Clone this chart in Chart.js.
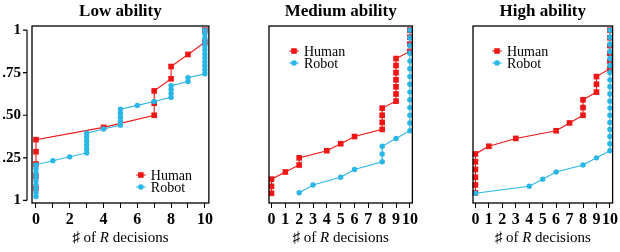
<!DOCTYPE html>
<html>
<head>
<meta charset="utf-8">
<script src="https://cdn.jsdelivr.net/npm/chart.js@4/dist/chart.umd.min.js"></script>
<style>
  html, body { margin: 0; padding: 0; background: #fff; }
  #wrap { position: relative; width: 620px; height: 252px; overflow: hidden; }
  canvas { position: absolute; top: 0; }
</style>
</head>
<body>
<div id="wrap">
  <canvas id="lowChart" width="215" height="252" style="left:0px"></canvas>
  <canvas id="mediumChart" width="205" height="252" style="left:215px"></canvas>
  <canvas id="highChart" width="200" height="252" style="left:420px"></canvas>
</div>
<script>
// x轴刻度
const xTickValues = [0, 1, 2, 3, 4, 5, 6, 7, 8, 9, 10];
const lowXTickLabels = ['0', '', '2', '', '4', '', '6', '', '8', '', '10'];
const allXTickLabels = ['0', '1', '2', '3', '4', '5', '6', '7', '8', '9', '10'];
// y轴刻度（原图底部就是写的 "1"）
const yTickValues = [0, 0.25, 0.5, 0.75, 1];
const yTickLabels = ['1', '.25', '.50', '.75', '1'];

// Low ability
const lowHumanX = [0, 0, 0, 0, 0, 4, 7, 7, 7, 8, 8, 9, 10, 10];
const lowHumanY = [0.071, 0.143, 0.214, 0.286, 0.357, 0.429, 0.5, 0.571, 0.643, 0.714, 0.786, 0.857, 0.929, 1];
const lowRobotX = [0, 0, 0, 0, 0, 0, 0, 0, 0, 1, 2, 3, 3, 3, 3, 3, 3, 4, 5, 5, 5, 5, 5, 6, 7, 8, 8, 8, 8, 9, 9,
                   10, 10, 10, 10, 10, 10, 10, 10, 10, 10, 10, 10];
const lowRobotY = [0.023, 0.047, 0.07, 0.093, 0.116, 0.14, 0.163, 0.186, 0.209, 0.233, 0.256,
                   0.279, 0.302, 0.326, 0.349, 0.372, 0.395, 0.419, 0.442, 0.465, 0.488, 0.512, 0.535,
                   0.558, 0.581, 0.605, 0.628, 0.651, 0.674, 0.698, 0.721,
                   0.744, 0.767, 0.791, 0.814, 0.837, 0.86, 0.884, 0.907, 0.93, 0.953, 0.977, 1];

// Medium ability
const mediumHumanX = [0, 0, 0, 1, 2, 2, 4, 5, 6, 8, 8, 8, 8, 9, 9, 9, 9, 9, 9, 9, 10, 10, 10, 10];
const mediumHumanY = [0.042, 0.083, 0.125, 0.167, 0.208, 0.25, 0.292, 0.333, 0.375, 0.417, 0.458, 0.5,
                      0.542, 0.583, 0.625, 0.667, 0.708, 0.75, 0.792, 0.833, 0.875, 0.917, 0.958, 1];
const mediumRobotX = [2, 3, 5, 6, 8, 8, 8, 9, 10, 10, 10, 10, 10, 10, 10, 10, 10, 10, 10, 10, 10, 10];
const mediumRobotY = [0.045, 0.091, 0.136, 0.182, 0.227, 0.273, 0.318, 0.364, 0.409, 0.455, 0.5,
                      0.545, 0.591, 0.636, 0.682, 0.727, 0.773, 0.818, 0.864, 0.909, 0.955, 1];

// High ability
const highHumanX = [0, 0, 0, 0, 0, 0, 1, 3, 6, 7, 8, 8, 8, 9, 9, 9, 10, 10, 10, 10, 10, 10];
const highHumanY = [0.045, 0.091, 0.136, 0.182, 0.227, 0.273, 0.318, 0.364, 0.409, 0.455, 0.5,
                    0.545, 0.591, 0.636, 0.682, 0.727, 0.773, 0.818, 0.864, 0.909, 0.955, 1];
const highRobotX = [0, 4, 5, 6, 8, 9, 10, 10, 10, 10, 10, 10, 10, 10, 10, 10, 10, 10, 10, 10, 10, 10, 10, 10];
const highRobotY = [0.042, 0.083, 0.125, 0.167, 0.208, 0.25, 0.292, 0.333, 0.375, 0.417, 0.458, 0.5,
                    0.542, 0.583, 0.625, 0.667, 0.708, 0.75, 0.792, 0.833, 0.875, 0.917, 0.958, 1];

const RED = 'rgb(240, 22, 22)';
const BLUE = 'rgb(42, 182, 230)';
const SERIF = '"Liberation Serif", "DejaVu Serif", serif';

function toPoints(xs, ys) {
    return xs.map((x, i) => ({ x: x, y: ys[i] }));
}

function drawMarker(ctx, style, x, y, color) {
    ctx.strokeStyle = color;
    ctx.fillStyle = color;
    ctx.lineWidth = 1;
    ctx.beginPath();
    ctx.moveTo(x - 5, y);
    ctx.lineTo(x + 5, y);
    ctx.stroke();
    if (style === 'rect') {
        ctx.fillRect(x - 2.8, y - 2.8, 5.6, 5.6);
    } else {
        ctx.beginPath();
        ctx.arc(x, y, 2.8, 0, Math.PI * 2);
        ctx.fill();
    }
}

// 外框、标题、x轴标题、图例、偏移的y轴
const decorPlugin = {
    id: 'decor',
    afterDraw(chart, args, opts) {
        const ctx = chart.ctx;
        const a = chart.chartArea;
        const cx = (a.left + a.right) / 2;
        ctx.save();

        // 外框
        ctx.strokeStyle = '#000';
        ctx.lineWidth = 1.3;
        ctx.strokeRect(a.left, a.top, a.right - a.left, a.bottom - a.top);

        // 偏移的y轴线
        if (opts.yAxisLine) {
            const ys = chart.scales.y;
            const lx = a.left - 5;
            ctx.lineWidth = 1.2;
            ctx.beginPath();
            ctx.moveTo(lx, ys.getPixelForValue(1));
            ctx.lineTo(lx, ys.getPixelForValue(0));
            yTickValues.forEach(v => {
                const py = ys.getPixelForValue(v);
                ctx.moveTo(lx - 4, py);
                ctx.lineTo(lx, py);
            });
            ctx.stroke();
        }

        // 标题
        ctx.fillStyle = '#000';
        ctx.textAlign = 'center';
        ctx.textBaseline = 'middle';
        ctx.font = 'bold 17px ' + SERIF;
        ctx.fillText(opts.title, cx, 12);

        // x轴标题：♯ of R decisions（R 用斜体）
        const parts = [
            { t: '\u266F of ', f: '15px ' + SERIF },
            { t: 'R', f: 'italic 15px ' + SERIF },
            { t: ' decisions', f: '15px ' + SERIF }
        ];
        let total = 0;
        parts.forEach(p => { ctx.font = p.f; p.w = ctx.measureText(p.t).width; total += p.w; });
        let px = cx - total / 2;
        ctx.textAlign = 'left';
        parts.forEach(p => { ctx.font = p.f; ctx.fillText(p.t, px, 238); px += p.w; });

        // 图例
        const lg = opts.legend;
        const lx = lg.fromRight ? a.right - lg.dx : a.left + lg.dx;
        const ly = lg.fromBottom ? a.bottom - lg.dy : a.top + lg.dy;
        ctx.font = '14px ' + SERIF;
        drawMarker(ctx, 'rect', lx, ly, RED);
        ctx.fillStyle = '#000';
        ctx.fillText('Human', lx + 10, ly + 1);
        drawMarker(ctx, 'circle', lx, ly + 12, BLUE);
        ctx.fillStyle = '#000';
        ctx.fillText('Robot', lx + 10, ly + 13);

        ctx.restore();
    }
};

function makePanel(id, cfg) {
    const ctx = document.getElementById(id).getContext('2d');
    return new Chart(ctx, {
        type: 'scatter',
        data: {
            datasets: [
                {
                    label: 'Human',
                    data: toPoints(cfg.humanX, cfg.humanY),
                    showLine: true,
                    borderColor: RED,
                    backgroundColor: RED,
                    borderWidth: 1.1,
                    pointStyle: 'rect',
                    pointRadius: 4,
                    pointBorderWidth: 0,
                    order: 1
                },
                {
                    label: 'Robot',
                    data: toPoints(cfg.robotX, cfg.robotY),
                    showLine: true,
                    borderColor: BLUE,
                    backgroundColor: BLUE,
                    borderWidth: 1.1,
                    pointStyle: 'circle',
                    pointRadius: 2.7,
                    pointBorderWidth: 0,
                    order: 0
                }
            ]
        },
        options: {
            responsive: false,
            animation: false,
            clip: false,
            layout: { padding: { top: 26, right: cfg.padRight, left: cfg.padLeft, bottom: 0 } },
            plugins: {
                legend: { display: false },
                tooltip: { enabled: false },
                decor: { title: cfg.title, legend: cfg.legend, yAxisLine: cfg.showY }
            },
            scales: {
                x: {
                    type: 'linear',
                    min: cfg.xMin,
                    max: cfg.xMax,
                    afterBuildTicks: scale => { scale.ticks = xTickValues.map(v => ({ value: v })); },
                    afterFit: scale => { scale.height = 49; },
                    border: { display: false },
                    grid: { drawOnChartArea: false, drawTicks: true, tickLength: 5, color: '#000', lineWidth: 1 },
                    ticks: {
                        autoSkip: false,
                        maxRotation: 0,
                        padding: 2,
                        color: '#000',
                        font: { family: SERIF, size: 16, weight: 'bold' },
                        callback: (v, i) => cfg.xLabels[i]
                    }
                },
                y: {
                    type: 'linear',
                    display: cfg.showY,
                    min: -0.015,
                    max: 1.024,
                    afterBuildTicks: scale => { scale.ticks = yTickValues.map(v => ({ value: v })); },
                    afterFit: scale => { scale.width = 32; },
                    border: { display: false },
                    grid: { display: false, drawTicks: false },
                    ticks: {
                        padding: 11,
                        color: '#000',
                        font: { family: SERIF, size: 15, weight: 'bold' },
                        callback: (v, i) => yTickLabels[i]
                    }
                }
            }
        },
        plugins: [decorPlugin]
    });
}

makePanel('lowChart', {
    title: 'Low ability',
    humanX: lowHumanX, humanY: lowHumanY, robotX: lowRobotX, robotY: lowRobotY,
    xLabels: lowXTickLabels, showY: true,
    padLeft: 0, padRight: 5, xMin: -0.235, xMax: 10.235,
    legend: { fromRight: true, dx: 68, fromBottom: true, dy: 28 }
});
makePanel('mediumChart', {
    title: 'Medium ability',
    humanX: mediumHumanX, humanY: mediumHumanY, robotX: mediumRobotX, robotY: mediumRobotY,
    xLabels: allXTickLabels, showY: false,
    padLeft: 22, padRight: 7, xMin: -0.18, xMax: 10.18,
    legend: { fromRight: false, dx: 25, fromBottom: false, dy: 25 }
});
makePanel('highChart', {
    title: 'High ability',
    humanX: highHumanX, humanY: highHumanY, robotX: highRobotX, robotY: highRobotY,
    xLabels: allXTickLabels, showY: false,
    padLeft: 21, padRight: 2, xMin: -0.18, xMax: 10.2,
    legend: { fromRight: false, dx: 24, fromBottom: false, dy: 25 }
});
</script>
</body>
</html>
